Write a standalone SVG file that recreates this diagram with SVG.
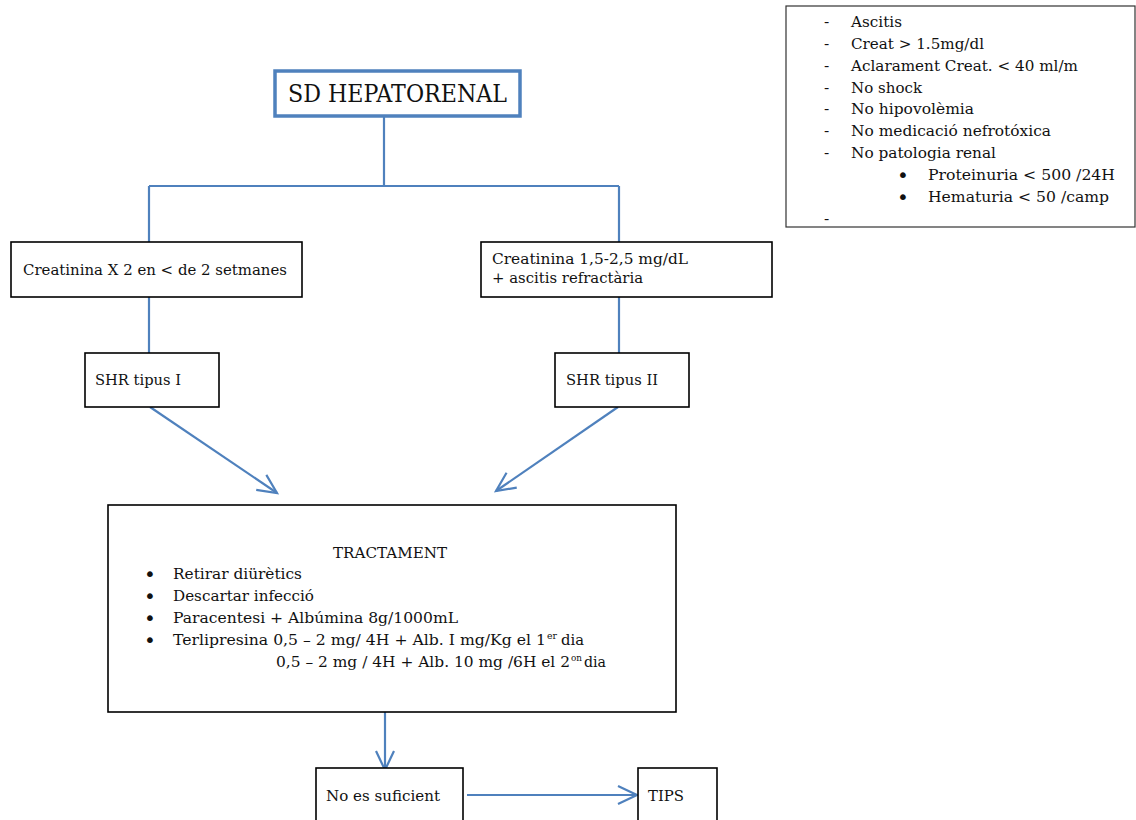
<svg xmlns="http://www.w3.org/2000/svg" width="1136" height="820" viewBox="0 0 1136 820">
<defs>
<marker id="ah" markerUnits="userSpaceOnUse" markerWidth="24" markerHeight="22" refX="21" refY="11" orient="auto">
<path d="M2,2 L21,11 L2,20" fill="none" stroke="#4f81bd" stroke-width="2.2"/>
</marker>
</defs>
<style>
.box{fill:#fff;stroke:#000;stroke-width:1.6}
.tbox{fill:#fff;stroke:#4f81bd;stroke-width:3.5}
.lbox{fill:#fff;stroke:#333;stroke-width:1.2}
.t{font-family:"DejaVu Serif","Liberation Serif",serif;font-size:15.5px;fill:#111}
.b{font-family:"DejaVu Sans","Liberation Sans",sans-serif;font-size:20px;fill:#111}
.s{font-family:"DejaVu Serif","Liberation Serif",serif;font-size:9px;fill:#111}
.h{font-family:"DejaVu Serif","Liberation Serif",serif;font-size:24px;fill:#111}
.c{fill:none;stroke:#4f81bd;stroke-width:2.2}
</style>
<rect width="1136" height="820" fill="#fff"/>

<g id="connectors">
<path class="c" d="M384,117 V186 M149,186 H619 M149,186 V242 M619,186 V242 M149,297 V353 M619,297 V353"/>
<path class="c" d="M150,407 L277,493" marker-end="url(#ah)"/>
<path class="c" d="M618,407 L496,491" marker-end="url(#ah)"/>
<path class="c" d="M385,712 V770" marker-end="url(#ah)"/>
<path class="c" d="M467,795 H637" marker-end="url(#ah)"/>
</g>

<g id="criteria">
<rect class="lbox" x="786" y="6" width="349" height="221"/>
<text class="t" x="824" y="27">-</text>
<text class="t" x="851" y="27" textLength="51" lengthAdjust="spacingAndGlyphs">Ascitis</text>
<text class="t" x="824" y="49">-</text>
<text class="t" x="851" y="49" textLength="133" lengthAdjust="spacingAndGlyphs">Creat &gt; 1.5mg/dl</text>
<text class="t" x="824" y="71">-</text>
<text class="t" x="851" y="71" textLength="227" lengthAdjust="spacingAndGlyphs">Aclarament Creat. &lt; 40 ml/m</text>
<text class="t" x="824" y="93">-</text>
<text class="t" x="851" y="93" textLength="71" lengthAdjust="spacingAndGlyphs">No shock</text>
<text class="t" x="824" y="114">-</text>
<text class="t" x="851" y="114" textLength="123" lengthAdjust="spacingAndGlyphs">No hipovolèmia</text>
<text class="t" x="824" y="136">-</text>
<text class="t" x="851" y="136" textLength="200" lengthAdjust="spacingAndGlyphs">No medicació nefrotóxica</text>
<text class="t" x="824" y="158">-</text>
<text class="t" x="851" y="158" textLength="145" lengthAdjust="spacingAndGlyphs">No patologia renal</text>
<text class="b" x="897" y="182">•</text>
<text class="t" x="928" y="180" textLength="187" lengthAdjust="spacingAndGlyphs">Proteinuria &lt; 500 /24H</text>
<text class="b" x="897" y="204">•</text>
<text class="t" x="928" y="202" textLength="181" lengthAdjust="spacingAndGlyphs">Hematuria &lt; 50 /camp</text>
<text class="t" x="824" y="224">-</text>
</g>

<g id="sd-hepatorenal">
<rect class="tbox" x="275" y="71" width="245" height="45"/>
<text class="h" x="288" y="102" textLength="219" lengthAdjust="spacingAndGlyphs">SD HEPATORENAL</text>
</g>

<g id="creat-x2">
<rect class="box" x="11" y="242" width="291" height="55"/>
<text class="t" x="23" y="275" textLength="264" lengthAdjust="spacingAndGlyphs">Creatinina X 2 en &lt; de 2 setmanes</text>
</g>

<g id="creat-range">
<rect class="box" x="481" y="242" width="291" height="55"/>
<text class="t" x="492" y="264" textLength="196" lengthAdjust="spacingAndGlyphs">Creatinina 1,5-2,5 mg/dL</text>
<text class="t" x="492" y="283" textLength="151" lengthAdjust="spacingAndGlyphs">+ ascitis refractària</text>
</g>

<g id="shr-1">
<rect class="box" x="85" y="353" width="134" height="54"/>
<text class="t" x="95" y="385" textLength="86" lengthAdjust="spacingAndGlyphs">SHR tipus I</text>
</g>

<g id="shr-2">
<rect class="box" x="555" y="353" width="134" height="54"/>
<text class="t" x="566" y="385" textLength="92" lengthAdjust="spacingAndGlyphs">SHR tipus II</text>
</g>

<g id="tractament">
<rect class="box" x="108" y="505" width="568" height="207"/>
<text class="t" x="333" y="558" textLength="114" lengthAdjust="spacingAndGlyphs">TRACTAMENT</text>
<text class="b" x="144" y="581">•</text>
<text class="t" x="173" y="579" textLength="129" lengthAdjust="spacingAndGlyphs">Retirar diürètics</text>
<text class="b" x="144" y="603">•</text>
<text class="t" x="173" y="601" textLength="141" lengthAdjust="spacingAndGlyphs">Descartar infecció</text>
<text class="b" x="144" y="625">•</text>
<text class="t" x="173" y="623" textLength="285" lengthAdjust="spacingAndGlyphs">Paracentesi + Albúmina 8g/1000mL</text>
<text class="b" x="144" y="647">•</text>
<text class="t" x="173" y="645" textLength="373" lengthAdjust="spacingAndGlyphs">Terlipresina 0,5 – 2 mg/ 4H + Alb. I mg/Kg el 1</text>
<text class="s" x="547" y="639" textLength="10" lengthAdjust="spacingAndGlyphs">er</text>
<text class="t" x="561" y="645" textLength="23" lengthAdjust="spacingAndGlyphs">dia</text>
<text class="t" x="276" y="667" textLength="294" lengthAdjust="spacingAndGlyphs">0,5 – 2 mg / 4H + Alb. 10 mg /6H el 2</text>
<text class="s" x="571" y="661" textLength="11" lengthAdjust="spacingAndGlyphs">on</text>
<text class="t" x="584" y="667" textLength="22" lengthAdjust="spacingAndGlyphs">dia</text>
</g>

<g id="no-suficient">
<rect class="box" x="316" y="768" width="147" height="70"/>
<text class="t" x="326" y="801" textLength="114" lengthAdjust="spacingAndGlyphs">No es suficient</text>
</g>

<g id="tips">
<rect class="box" x="638" y="768" width="79" height="70"/>
<text class="t" x="648" y="801" textLength="36" lengthAdjust="spacingAndGlyphs">TIPS</text>
</g>
</svg>
